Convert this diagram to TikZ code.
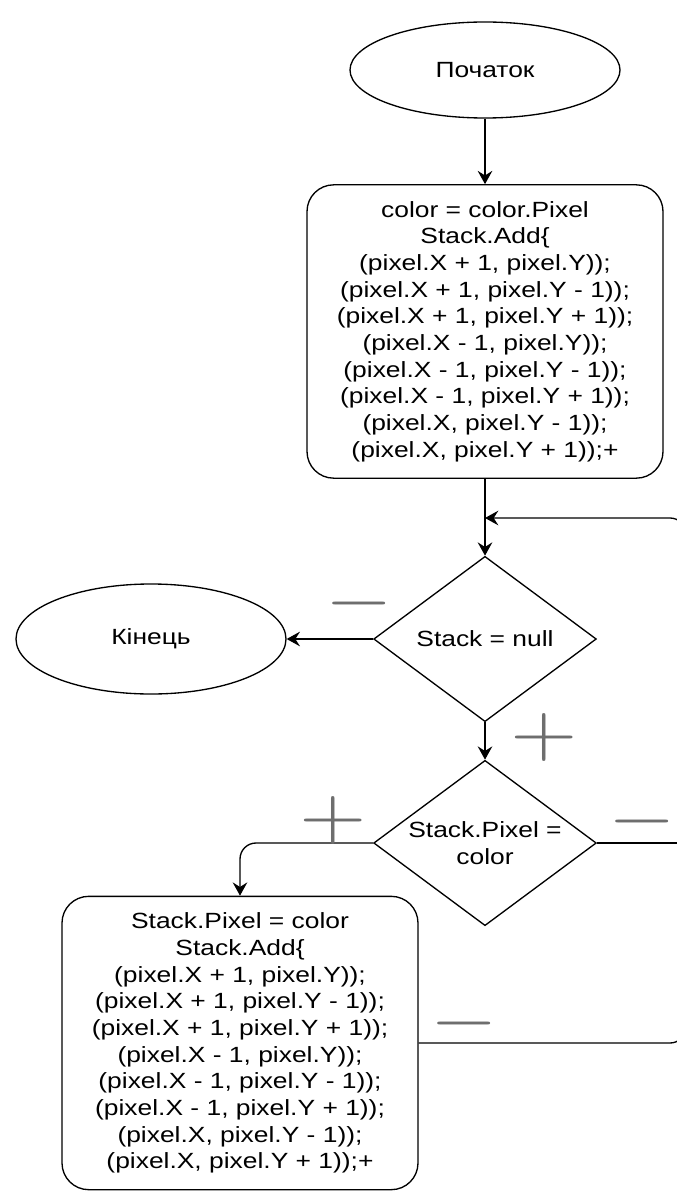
\documentclass[tikz,border=0pt]{standalone}
\usepackage{fontspec}
\setmainfont{Liberation Sans}[FakeStretch=1.2]
\usepackage{graphicx}
\usetikzlibrary{shapes.geometric,arrows.meta}

\definecolor{markgray}{RGB}{110,110,110}

\begin{document}
\begin{tikzpicture}[x=0.75pt,y=0.75pt,yscale=-1,xscale=1,
  every node/.style={font=\fontsize{16.5}{20}\selectfont},
  terminal/.style={draw,ellipse,line width=1pt,minimum width=202.5pt,minimum height=72pt,inner sep=0pt},
  process/.style={draw,rounded corners=20pt,line width=1pt,minimum width=267pt,minimum height=220pt,inner sep=0pt,align=center},
  decision/.style={draw,diamond,aspect=1.35,line width=1pt,minimum width=167pt,minimum height=124pt,inner sep=0pt,align=center},
  flow/.style={line width=1pt,-{Stealth[length=10pt,width=11pt,inset=3.5pt]}},
  link/.style={line width=1pt},
  sign/.style={text=markgray,inner sep=0pt,font=\fontsize{10}{12}\selectfont}]
\useasboundingbox (0,0) rectangle (677,1191);

%Shape: Ellipse [start]
\node[terminal] (start) at (485,70) {Початок};
%Shape: Rounded Rectangle [first fill]
\node[process] (fill) at (485,331.5) {color = color.Pixel\\Stack.Add\{\\(pixel.X + 1, pixel.Y));\\(pixel.X + 1, pixel.Y - 1));\\(pixel.X + 1, pixel.Y + 1));\\(pixel.X - 1, pixel.Y));\\(pixel.X - 1, pixel.Y - 1));\\(pixel.X - 1, pixel.Y + 1));\\(pixel.X, pixel.Y - 1));\\(pixel.X, pixel.Y + 1));+};
%Shape: Diamond [empty stack]
\node[decision] (empty) at (485,639) {Stack = null};
%Shape: Ellipse [end]
\node[terminal,minimum height=82.5pt] (stop) at (151,639) {Кінець};
%Shape: Diamond [same colour]
\node[decision] (same) at (485,843) {Stack.Pixel =\\color};
%Shape: Rounded Rectangle [repaint]
\node[process] (repaint) at (240,1043) {Stack.Pixel = color\\Stack.Add\{\\(pixel.X + 1, pixel.Y));\\(pixel.X + 1, pixel.Y - 1));\\(pixel.X + 1, pixel.Y + 1));\\(pixel.X - 1, pixel.Y));\\(pixel.X - 1, pixel.Y - 1));\\(pixel.X - 1, pixel.Y + 1));\\(pixel.X, pixel.Y - 1));\\(pixel.X, pixel.Y + 1));+};

% loop points
\coordinate (merge) at (485,518);
\coordinate (rail) at (686,518);

%Straight Lines [connectors]
\draw[flow] (start) -- (fill);
\draw[flow] (fill) -- (empty);
\draw[flow] (empty.west) -- (stop.east);
\draw[flow] (empty) -- (same);
\draw[flow,rounded corners=12pt] (same.west) -| (repaint.north);
\draw[link] (same.east) -- (same.east -| rail);
\draw[flow,rounded corners=12pt] (repaint.east) -| (rail) -- (merge);

% Text Node
\node[sign] (noA) at (359,603) {\scalebox{6.5}[5.4]{$-$}};
% Text Node
\node[sign] (yesA) at (544,737) {\scalebox{6.5}[5.4]{$+$}};
% Text Node
\node[sign] (yesB) at (333,820) {\scalebox{6.5}[5.4]{$+$}};
% Text Node
\node[sign] (noB) at (642,821) {\scalebox{6.5}[5.4]{$-$}};
% Text Node
\node[sign] (noC) at (464,1023) {\scalebox{6.5}[5.4]{$-$}};

\end{tikzpicture}
\end{document}
